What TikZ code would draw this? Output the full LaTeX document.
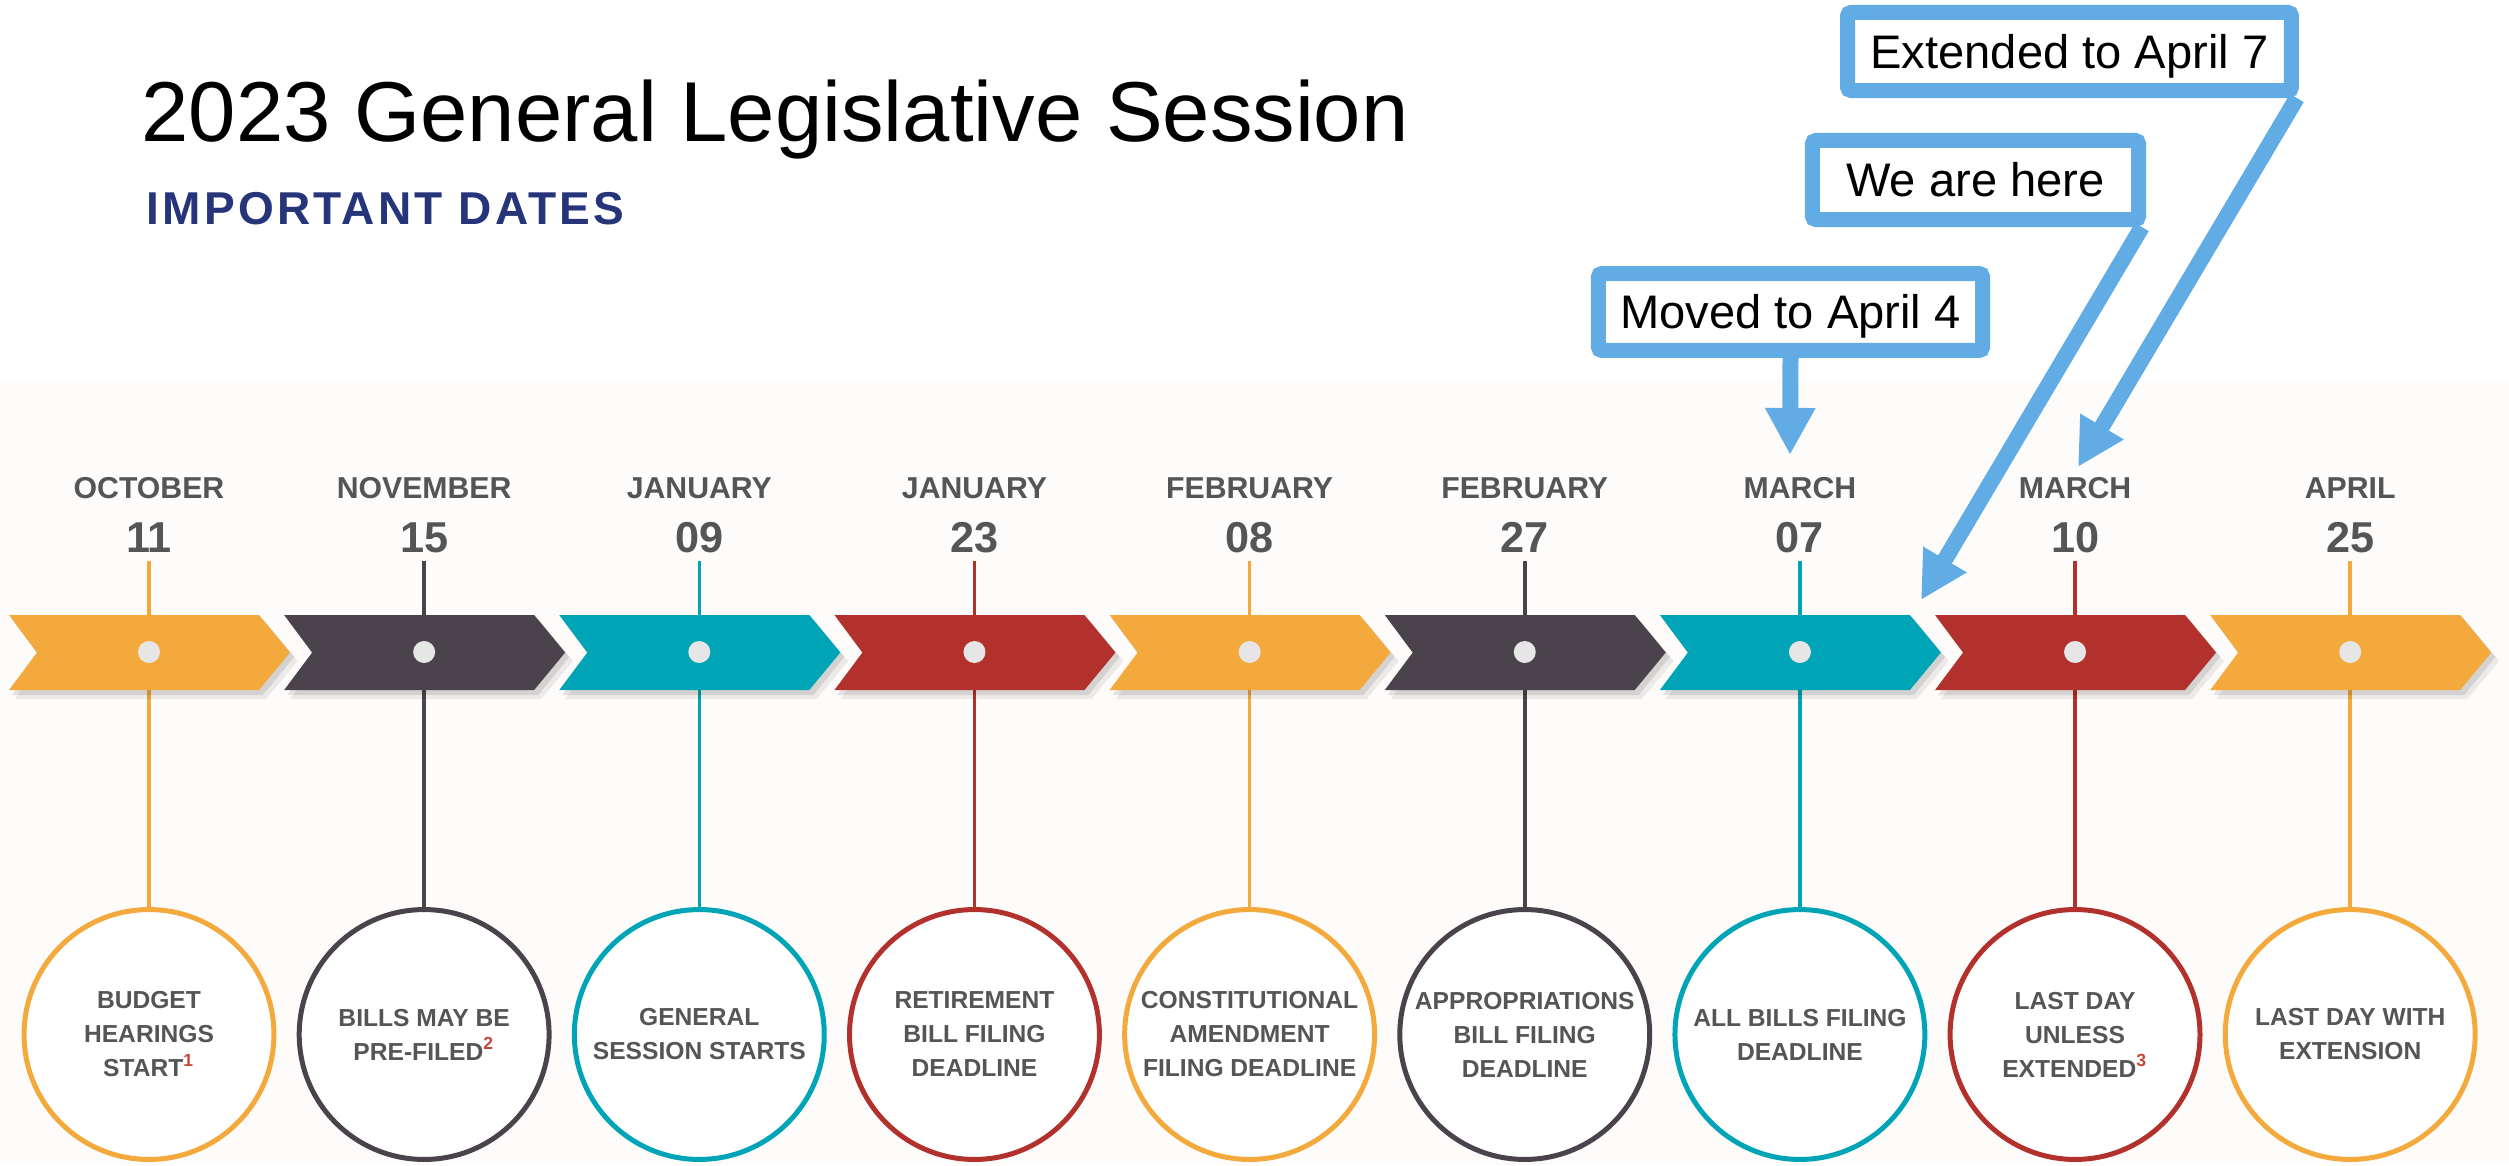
\documentclass[tikz,border=0pt]{standalone}
\usepackage{fontspec}
\setmainfont{Liberation Sans}
\usetikzlibrary{arrows.meta}
\definecolor{corange}{HTML}{F3A93C}
\definecolor{cdark}{HTML}{4B434C}
\definecolor{cteal}{HTML}{00A4B7}
\definecolor{cred}{HTML}{B3312C}
\definecolor{ctext}{HTML}{555557}
\definecolor{cnavy}{HTML}{263479}
\definecolor{cblue}{HTML}{62ACE5}
\definecolor{cbg}{HTML}{FDFCFB}
\definecolor{cdot}{HTML}{E6E6E6}
\definecolor{csup}{HTML}{C4463A}
\newcommand\supn[1]{\textcolor{csup}{\textsuperscript{#1}}}
\begin{document}
\begin{tikzpicture}[x=0.28453pt,y=-0.28453pt,
  callout/.style={draw=cblue, line width=4.27pt, fill=white, rounded corners=1pt,
    font=\fontsize{13.4pt}{16pt}\selectfont, text height=9.6pt, text depth=0pt, inner sep=0pt},
  callarrow/.style={draw=cblue, line width=4.55pt, -{Triangle[length=13.4pt,width=13.4pt]}},
  monthlbl/.style={anchor=base, inner sep=0pt, text=ctext, font=\fontsize{8.6pt}{10pt}\selectfont\bfseries},
  daylbl/.style={anchor=base, inner xsep=0pt, inner ysep=2.5pt, text depth=0pt, text=ctext, font=\fontsize{12.3pt}{14pt}\selectfont\bfseries},
  circlbl/.style={circle, line width=1.42pt, minimum size=71.1pt, inner sep=0pt, fill=white, align=center, text=ctext, font=\fontsize{7pt}{9.67pt}\selectfont\bfseries},
  conn/.style={line width=1pt}
]
\useasboundingbox (0,0) rectangle (2509,1165);
\fill[white] (0,0) rectangle (2509,1165);
\fill[cbg] (0,380) rectangle (2509,1165);

% title
\node[anchor=base west, inner sep=0pt, font=\fontsize{24.2pt}{29pt}\selectfont] (title) at (141,141) {2023 General Legislative Session};
\node[anchor=base west, inner sep=0pt, text=cnavy, font=\fontsize{13.1pt}{15pt}\selectfont\bfseries\addfontfeatures{LetterSpace=7}] (sub) at (146,224) {IMPORTANT DATES};

% timeline
\foreach \i/\col/\mon/\dd/\txt in {
  1/corange/OCTOBER/11/{BUDGET\\HEARINGS\\START\supn{1}},
  2/cdark/NOVEMBER/15/{BILLS MAY BE\\PRE-FILED\supn{2}},
  3/cteal/JANUARY/09/{GENERAL\\SESSION STARTS},
  4/cred/JANUARY/23/{RETIREMENT\\BILL FILING\\DEADLINE},
  5/corange/FEBRUARY/08/{CONSTITUTIONAL\\AMENDMENT\\FILING DEADLINE},
  6/cdark/FEBRUARY/27/{APPROPRIATIONS\\BILL FILING\\DEADLINE},
  7/cteal/MARCH/07/{ALL BILLS FILING\\DEADLINE},
  8/cred/MARCH/10/{LAST DAY\\UNLESS\\EXTENDED\supn{3}},
  9/corange/APRIL/25/{LAST DAY WITH\\EXTENSION}}
{
  \pgfmathsetmacro\cx{149+275.15*(\i-1)}
  \node[monthlbl] (m\i) at (\cx,498) {\mon};
  \node[daylbl] (d\i) at (\cx,552) {\dd};
  \node[circlbl, draw=\col] (c\i) at (\cx,1034.5) {\txt};
  \draw[conn, draw=\col] (d\i.south) -- (c\i.north);
  % shadow
  \fill[black, opacity=0.07] (\cx-134,623) -- (\cx+117,623) -- (\cx+149,661) -- (\cx+117,699) -- (\cx-134,699) -- (\cx-106,661) -- cycle;
  \fill[black, opacity=0.10] (\cx-137,619) -- (\cx+114,619) -- (\cx+145,657) -- (\cx+114,695) -- (\cx-137,695) -- (\cx-109,657) -- cycle;
  % chevron
  \fill[\col] (\cx-140,615) -- (\cx+110,615) -- (\cx+141,652.5) -- (\cx+110,690) -- (\cx-140,690) -- (\cx-112,652.5) -- cycle;
  \fill[cdot] (\cx,652) circle (11);
}

% callouts
\node[callout, minimum width=126.3pt, minimum height=22.2pt] (ext) at (2069.5,51.5) {Extended to April 7};
\node[callout, minimum width=92.8pt, minimum height=22.5pt] (here) at (1975.5,180) {We are here};
\node[callout, minimum width=109.3pt, minimum height=21.9pt] (moved) at (1790.5,312) {Moved to April 4};

\coordinate (tipmoved) at (1790,455);
\coordinate (tiphere) at (1921,600);
\coordinate (tipext) at (2078,467);
\draw[callarrow] (moved.south) -- (tipmoved);
\draw[callarrow] ([xshift=-1.2pt]here.south east) -- (tiphere);
\draw[callarrow] ([xshift=-0.6pt]ext.south east) -- (tipext);
\end{tikzpicture}
\end{document}
